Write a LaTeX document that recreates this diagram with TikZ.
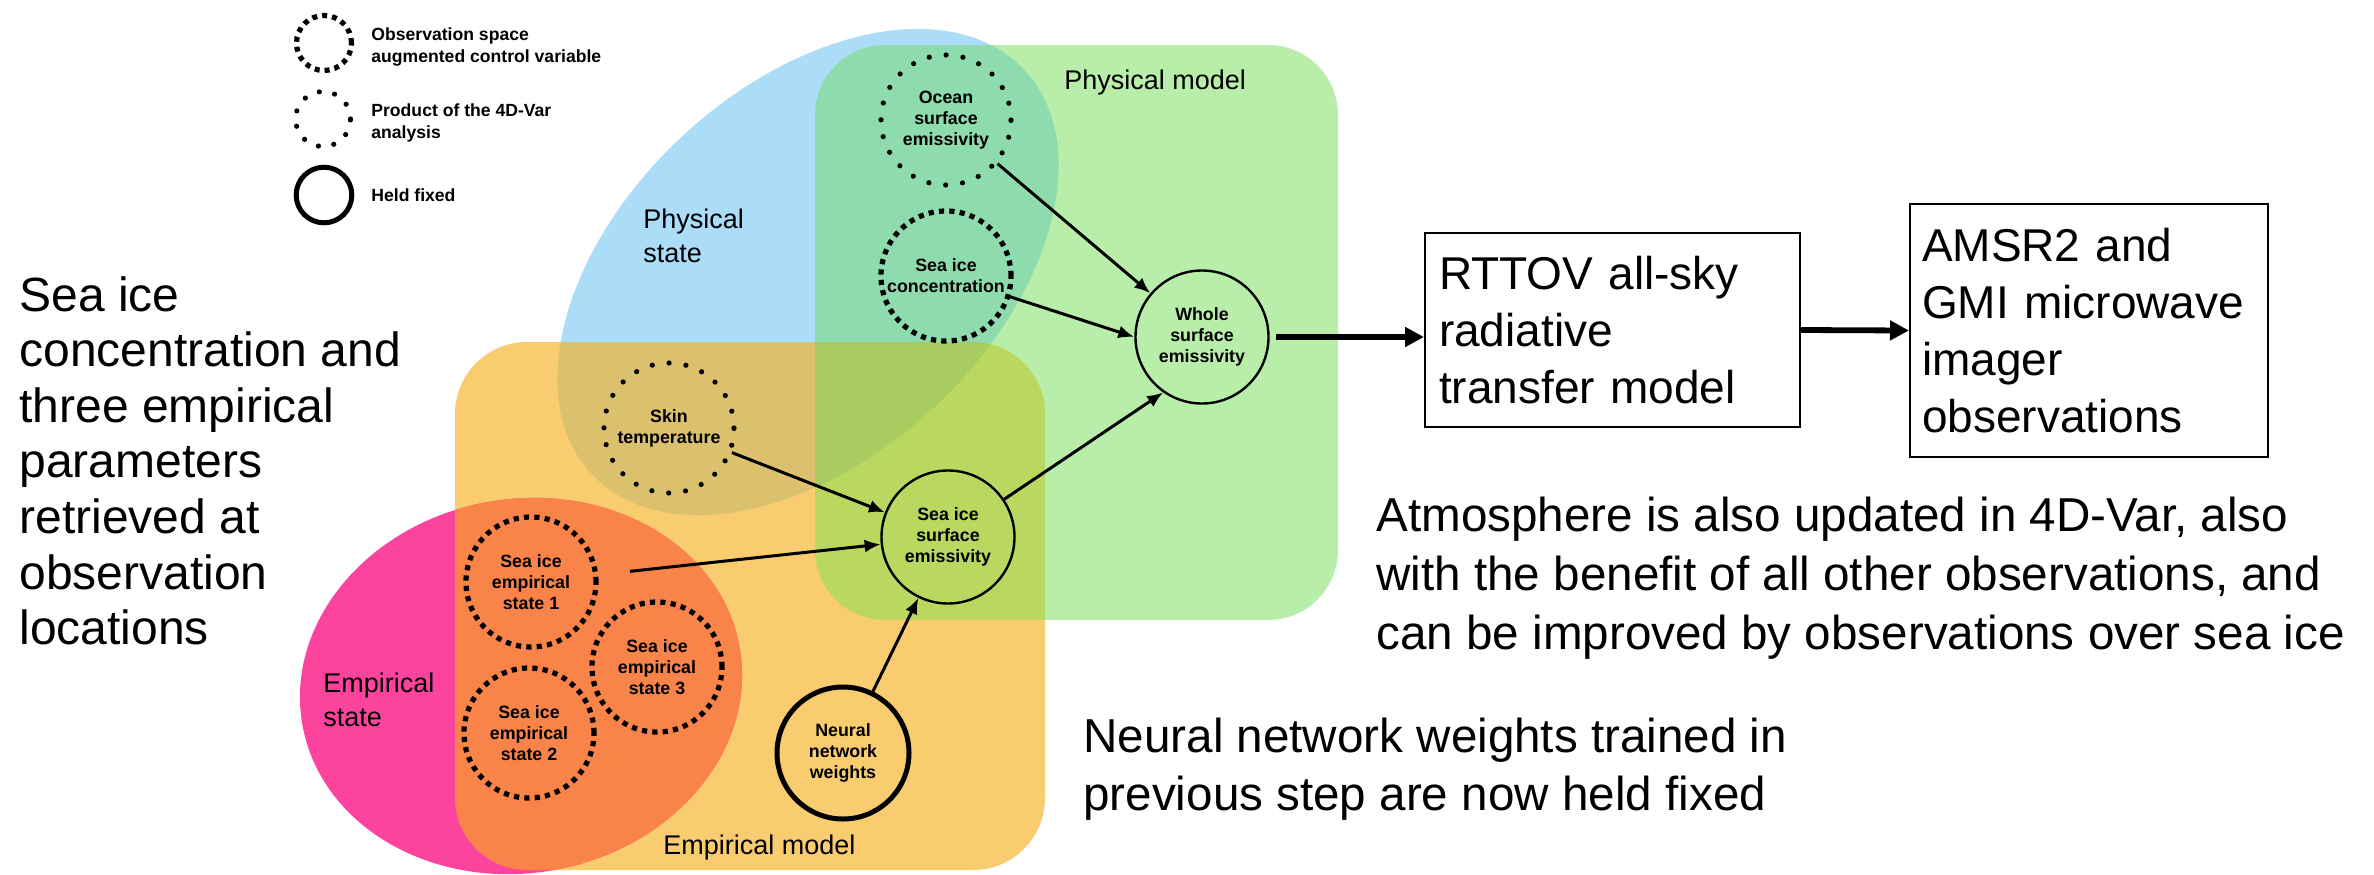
\documentclass[tikz,border=0pt]{standalone}
\usepackage{fontspec}
\setmainfont{Liberation Sans}
\usetikzlibrary{arrows.meta}
\definecolor{cB}{HTML}{ACDDF8}
\definecolor{cG}{HTML}{B9EDAA}
\definecolor{cO}{HTML}{F9CC6F}
\definecolor{cP}{HTML}{FC449F}
\definecolor{cBG}{HTML}{8EDBAE}
\definecolor{cBO}{HTML}{DBC06E}
\definecolor{cGO}{HTML}{BAD75F}
\definecolor{cBGO}{HTML}{A8CC5F}
\definecolor{cPO}{HTML}{F9844A}
\begin{document}
\begin{tikzpicture}[x=0.5pt,y=-0.5pt,
  lbl/.style={inner sep=0pt, align=center, font=\fontsize{8.9}{10.6}\selectfont\bfseries},
  obsc/.style={circle, draw, line width=2.6pt, dash pattern=on 2.6pt off 2.6pt, minimum size=65pt, inner sep=0pt, lbl},
  anac/.style={circle, draw, line width=2.6pt, line cap=round, dash pattern=on 0pt off 8.5pt, minimum size=65pt, inner sep=0pt, lbl},
  thinc/.style={circle, draw, line width=1.2pt, minimum size=66.5pt, inner sep=0pt, lbl},
  fixc/.style={circle, draw, line width=2.5pt, minimum size=66pt, inner sep=0pt, lbl},
  legtxt/.style={anchor=north west, inner sep=0pt, align=left, font=\fontsize{8.8}{11}\selectfont\bfseries},
  medtxt/.style={anchor=north west, inner sep=0pt, align=left, font=\fontsize{13.5}{17}\selectfont},
  bigtxt/.style={anchor=north west, inner sep=0pt, align=left},
  boxnode/.style={draw, line width=1pt, inner xsep=7pt, align=left, font=\fontsize{23}{28.5}\selectfont},
  arr/.style={line width=1.5pt, -{Latex[length=8pt,width=6.5pt]}},
  bigarr/.style={line width=2.9pt, -{Triangle[length=9.5pt,width=9.5pt]}},
  bluesh/.style={rotate around={43:(808,272)}},
  pinksh/.style={rotate around={10:(521,686)}}
]
\useasboundingbox (0,0) rectangle (2374,874);
\fill[white] (0,0) rectangle (2374,874);

% background regions
\fill[cB, bluesh] (808,272) ellipse [x radius=296, y radius=185];
\fill[cG, rounded corners=35pt] (815,45) rectangle (1338,620);
\fill[cO, rounded corners=36pt] (455,342) rectangle (1045,870);
\fill[cP, pinksh] (521,686) ellipse [x radius=222, y radius=187];
\begin{scope}
  \clip[rounded corners=35pt] (815,45) rectangle (1338,620);
  \fill[cBG, bluesh] (808,272) ellipse [x radius=296, y radius=185];
\end{scope}
\begin{scope}
  \clip[rounded corners=36pt] (455,342) rectangle (1045,870);
  \fill[cBO, bluesh] (808,272) ellipse [x radius=296, y radius=185];
  \fill[cGO, rounded corners=35pt] (815,45) rectangle (1338,620);
  \fill[cPO, pinksh] (521,686) ellipse [x radius=222, y radius=187];
  \clip[rounded corners=35pt] (815,45) rectangle (1338,620);
  \fill[cBGO, bluesh] (808,272) ellipse [x radius=296, y radius=185];
\end{scope}

% legend
\node[obsc, minimum size=27.5pt, dash pattern=on 2.5pt off 2.5pt] (lg1) at (324,43) {};
\node[anac, minimum size=27.5pt, dash pattern=on 0pt off 7.8pt] (lg2) at (323,119) {};
\node[fixc, minimum size=27.8pt] (lg3) at (324,195) {};
\node[legtxt] (lt1) at (371,27) {Observation space\\augmented control variable};
\node[legtxt] (lt2) at (371,103) {Product of the 4D-Var\\analysis};
\node[legtxt] (lt3) at (371,188) {Held fixed};

% region labels
\node[medtxt] (physstate) at (643,209) {Physical\\state};
\node[medtxt] (physmodel) at (1064,70) {Physical model};
\node[medtxt] (empstate) at (323,673) {Empirical\\state};
\node[medtxt] (empmodel) at (663,835) {Empirical model};

% nodes
\node[anac] (ocean) at (946,120) {Ocean\\surface\\emissivity};
\node[obsc] (conc) at (946,276) {Sea ice\\concentration};
\node[thinc] (whole) at (1202,337) {Whole\\surface\\emissivity};
\node[anac] (skin) at (669,428) {Skin\\temperature};
\node[thinc] (sisurf) at (948,537) {Sea ice\\surface\\emissivity};
\node[obsc] (es1) at (531,582) {Sea ice\\empirical\\state 1};
\node[obsc] (es2) at (529,733) {Sea ice\\empirical\\state 2};
\node[obsc] (es3) at (657,667) {Sea ice\\empirical\\state 3};
\node[fixc] (nn) at (843,753) {Neural\\network\\weights};

\node[boxnode, minimum width=187.5pt, minimum height=97pt, text width=173.5pt] (rttov) at (1612.5,330) {RTTOV all-sky\\radiative\\transfer model};
\node[boxnode, inner xsep=6pt, minimum width=179pt, minimum height=126.5pt, text width=167pt] (amsr) at (2089,330.5) {AMSR2 and\\GMI microwave\\imager\\observations};

% connectors
\draw[arr] (ocean) -- (whole);
\draw[arr] (conc) -- (whole.west);
\draw[arr] (skin) -- (sisurf);
\draw[arr, shorten <=16pt] (es1) -- (sisurf);
\draw[arr] (nn) -- (sisurf);
\draw[arr] (sisurf) -- (whole.235);
\draw[bigarr] ([xshift=3pt]whole.east) -- (rttov.west |- whole.east);
\draw[bigarr] (rttov.east) -- (amsr.west);

% big texts
\node[bigtxt, font=\fontsize{24}{27.8}\selectfont] (lefttxt) at (19,276) {Sea ice\\concentration and\\three empirical\\parameters\\retrieved at\\observation\\locations};
\node[bigtxt, font=\fontsize{23.8}{29.3}\selectfont] (atmtxt) at (1376,497) {Atmosphere is also updated in 4D-Var, also\\with the benefit of all other observations, and\\can be improved by observations over sea ice};
\node[bigtxt, font=\fontsize{23.8}{29}\selectfont] (nntxt) at (1083,718) {Neural network weights trained in\\previous step are now held fixed};
\end{tikzpicture}
\end{document}
